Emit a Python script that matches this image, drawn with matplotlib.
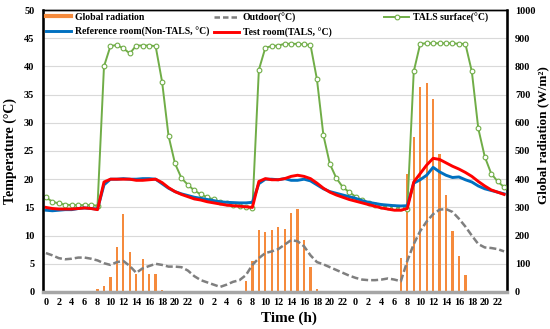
import matplotlib
matplotlib.use("Agg")
import matplotlib.pyplot as plt
from matplotlib.lines import Line2D
import numpy as np

plt.rcParams['font.family'] = ['Liberation Serif', 'DejaVu Serif']
plt.rcParams['font.weight'] = 'bold'

# hourly data over three days (72 points)
hour_labels = [str(h) for h in range(0, 24, 2)] * 3

radiation = [0, 0, 0, 0, 0, 0, 0, 2, 10, 21, 54, 158, 277, 142, 64, 118, 64, 64, 7, 0, 0, 0, 0, 0,
             0, 0, 0, 0, 0, 0, 0, 38, 111, 220, 213, 220, 230, 225, 280, 296, 184, 90, 10, 0, 0, 0, 0, 0,
             0, 0, 0, 0, 0, 0, 3, 121, 420, 548, 726, 740, 683, 489, 345, 217, 128, 59, 5, 0, 0, 0, 0, 0]

outdoor = [6.9, 6.5, 6.0, 5.8, 5.9, 6.1, 6.1, 5.9, 5.6, 5.1, 4.8, 5.3, 5.5, 4.6, 3.4, 4.2, 4.6, 5.0, 4.8, 4.5, 4.5, 4.4, 3.8, 2.8,
           2.1, 1.7, 1.3, 0.9, 1.3, 1.8, 2.1, 3.0, 4.8, 6.0, 6.9, 7.2, 7.6, 8.4, 9.2, 9.0, 8.1, 6.5, 5.3, 4.9, 4.4, 3.9, 3.4, 2.9,
           2.5, 2.2, 2.1, 2.1, 2.2, 2.4, 2.2, 1.9, 5.5, 8.5, 10.8, 12.5, 13.8, 14.6, 14.7, 14.2, 13.0, 11.6, 10.0, 8.5, 7.9, 7.8, 7.6, 7.2]

tals_surface = [16.8, 16.0, 15.7, 15.5, 15.4, 15.4, 15.4, 15.4, 15.3, 40.0, 43.6, 43.8, 43.2, 42.3, 43.7, 43.7, 43.7, 43.6, 37.3, 27.7, 22.8, 20.2, 19.0, 18.0,
                17.3, 16.8, 16.4, 16.0, 15.7, 15.5, 15.3, 15.1, 14.9, 39.4, 43.3, 43.6, 43.7, 44.0, 44.0, 44.0, 43.9, 43.8, 37.7, 27.8, 22.7, 20.2, 18.6, 17.7,
                16.9, 16.3, 15.8, 15.5, 15.3, 15.1, 15.0, 14.9, 14.8, 39.1, 44.0, 44.1, 44.1, 44.1, 44.1, 44.1, 44.0, 44.0, 39.1, 29.0, 24.0, 21.0, 19.6, 18.6]

reference_room = [14.5, 14.4, 14.5, 14.6, 14.6, 14.8, 14.9, 14.8, 14.7, 19.0, 20.0, 20.0, 20.1, 20.0, 20.0, 20.1, 20.1, 20.0, 19.2, 18.4, 17.8, 17.4, 17.1, 16.8,
                  16.6, 16.4, 16.2, 16.0, 15.9, 15.85, 15.8, 15.8, 15.9, 19.2, 20.0, 20.0, 19.9, 20.1, 19.8, 19.8, 20.0, 19.7, 19.0, 18.3, 17.8, 17.5, 17.2, 16.9,
                  16.6, 16.2, 15.9, 15.7, 15.5, 15.4, 15.3, 15.25, 15.3, 19.3, 19.9, 20.7, 22.1, 21.3, 20.7, 20.3, 20.4, 19.9, 19.5, 18.8, 18.3, 18.0, 17.7, 17.4]

test_room = [15.0, 14.8, 14.7, 14.7, 14.7, 14.8, 14.9, 14.8, 14.6, 19.5, 20.0, 20.0, 20.0, 20.0, 19.8, 19.8, 19.9, 20.0, 19.4, 18.5, 17.8, 17.3, 16.9, 16.5,
             16.3, 16.0, 15.8, 15.6, 15.4, 15.3, 15.2, 15.1, 15.0, 19.6, 20.1, 19.9, 19.9, 20.1, 20.5, 20.7, 20.5, 20.1, 19.3, 18.4, 17.7, 17.2, 16.8, 16.4,
             16.1, 15.8, 15.5, 15.2, 14.9, 14.7, 14.5, 14.5, 14.8, 19.5, 21.0, 22.5, 23.7, 23.5, 22.9, 22.3, 21.8, 21.2, 20.5, 19.6, 18.8, 18.1, 17.7, 17.3]

c_orange = '#F58A3C'
c_gray = '#7F7F7F'
c_green = '#70AD47'
c_blue = '#0070C0'
c_red = '#FF0000'

x = np.arange(len(radiation))

fig = plt.figure(figsize=(5.5, 3.29), dpi=100)
ax = fig.add_axes([0.0776, 0.1125, 0.8448, 0.8571])
ax2 = ax.twinx()

# bars and grid on the radiation axis, kept behind the temperature lines
ax.set_zorder(ax2.get_zorder() + 1)
ax.patch.set_visible(False)
ax2.bar(x, radiation, width=0.35, color=c_orange, zorder=2)
ax2.set_ylim(0, 1000)
ax2.set_yticks(np.arange(0, 1001, 100))
ax2.grid(axis='y', color='#D9D9D9', linewidth=0.8, zorder=0)
ax2.set_axisbelow(True)

ax.plot(x, outdoor, color=c_gray, lw=1.8, linestyle=(0, (2.8, 1.2)))
ax.plot(x, tals_surface, color=c_green, lw=1.4, marker='o', markersize=3.4,
        markerfacecolor='white', markeredgecolor=c_green, markeredgewidth=0.8)
ax.plot(x, reference_room, color=c_blue, lw=2.1)
ax.plot(x, test_room, color=c_red, lw=2.1)

ax.set_xlim(-0.5, 71.5)
ax.set_ylim(0, 50)
ax.set_yticks(np.arange(0, 51, 5))
ax.set_xticks(np.arange(0, 72, 2))
ax.set_xticklabels(hour_labels)

ax.tick_params(axis='y', length=0, pad=6, labelsize=7.5)
ax.tick_params(axis='x', length=0, pad=4, labelsize=7.3)
ax2.tick_params(axis='y', length=0, pad=5.5, labelsize=7.3)

for a in (ax, ax2):
    for s in a.spines.values():
        s.set_color('black')
        s.set_linewidth(1.0)
ax.spines['left'].set_linewidth(1.8)
ax2.spines['right'].set_linewidth(1.8)
ax.spines['bottom'].set_color('#A6A6A6')
ax.spines['bottom'].set_linewidth(2.5)
ax2.spines['bottom'].set_visible(False)

ax.set_xlabel('Time (h)', fontsize=11, fontweight='bold')
ax.xaxis.set_label_coords(0.53, -0.068, transform=ax.transAxes)
ax.xaxis.label.set_va('top')
ax.set_ylabel('Temperature (°C)', fontsize=10, fontweight='bold')
ax.yaxis.set_label_coords(-0.07, 0.5)
ax.yaxis.label.set_va('center')
ax2.set_ylabel('Global radiation (W/m²)', fontsize=9.5, fontweight='bold')
ax2.yaxis.set_label_coords(1.078, 0.555)
ax2.yaxis.label.set_va('center')

# legend laid out as three separate columns
lkw = dict(frameon=False, handlelength=2.6, handletextpad=0.35,
           labelspacing=0.55, borderpad=0, borderaxespad=0, loc='upper left',
           bbox_transform=fig.transFigure, prop={'weight': 'bold', 'size': 7})
h_rad = Line2D([], [], color=c_orange, lw=3)
h_ref = Line2D([], [], color=c_blue, lw=2.1)
h_out = Line2D([], [], color=c_gray, lw=1.8, linestyle=(0, (2.2, 1.2)))
h_test = Line2D([], [], color=c_red, lw=2.1)
h_tals = Line2D([], [], color=c_green, lw=1.4, marker='o', markersize=3.4,
                markerfacecolor='white', markeredgecolor=c_green, markeredgewidth=0.8)

leg1 = ax.legend([h_rad, h_ref], ['Global radiation', 'Reference room(Non-TALS, °C)'],
                 bbox_to_anchor=(46 / 550, 1 - 12.5 / 329), **lkw)
ax.add_artist(leg1)
leg2 = ax.legend([h_out, h_test], ['Outdoor(°C)', 'Test room(TALS, °C)'],
                 bbox_to_anchor=(214 / 550, 1 - 12.5 / 329), **lkw)
ax.add_artist(leg2)
ax.legend([h_tals], ['TALS surface(°C)'],
          bbox_to_anchor=(384 / 550, 1 - 12.5 / 329), **lkw)

fig.savefig('out.png', dpi=100)
